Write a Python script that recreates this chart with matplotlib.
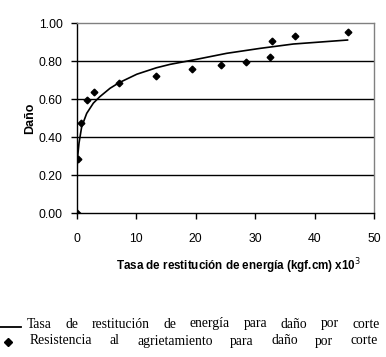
import matplotlib
matplotlib.use('Agg')
import matplotlib.pyplot as plt
import numpy as np

# data
tasa_x = [0.0, 0.17, 0.72, 1.68, 2.9, 7.06, 13.4, 19.4, 24.2, 28.4, 32.4, 32.8, 36.6, 45.5]
resist_y = [0.0, 0.284, 0.475, 0.596, 0.637, 0.684, 0.724, 0.759, 0.782, 0.795, 0.821, 0.905, 0.935, 0.954]

curve_x = [0.0, 0.02, 0.1, 0.39, 0.84, 1.68, 2.8, 3.9, 5.6, 7.1, 10.1, 13.4, 15.7, 19.6, 25.2, 30.8, 36.4, 45.5]
curve_y = [0.0, 0.14, 0.28, 0.37, 0.456, 0.526, 0.58, 0.614, 0.658, 0.687, 0.732, 0.766, 0.784, 0.807, 0.842, 0.868, 0.891, 0.912]

yticks = [0.0, 0.2, 0.4, 0.6, 0.8, 1.0]
xticks = [0, 10, 20, 30, 40, 50]

leg1 = 'Tasa de restitución de energía para daño por corte'
leg2 = 'Resistencia al agrietamiento para daño por corte'

W, H = 386, 357
fig = plt.figure(figsize=(W / 100, H / 100), dpi=100)
ax = fig.add_axes([76.7 / W, 1 - 213.3 / H, (374.3 - 76.7) / W, (213.3 - 23.3) / H])

for v in yticks[1:-1]:
    ax.axhline(v, color='black', lw=1.0, zorder=1)

ax.plot(curve_x, curve_y, color='black', lw=1.2, zorder=3)
ax.plot(tasa_x, resist_y, linestyle='none', marker='D', ms=3.4, color='black', zorder=4)

ax.set_xlim(0, 50)
ax.set_ylim(0, 1.0)
ax.set_xticks(xticks)
ax.set_yticks(yticks)
ax.set_yticklabels(['%.2f' % v for v in yticks])

for s in ['top', 'right']:
    ax.spines[s].set_color('#808080')
for s in ['left', 'bottom']:
    ax.spines[s].set_color('black')
for s in ax.spines.values():
    s.set_linewidth(1.0)

ax.tick_params(axis='both', direction='out', length=4, width=1, color='black',
               labelsize=8.8, labelfontfamily='Liberation Sans')
ax.tick_params(axis='x', pad=10)
ax.tick_params(axis='y', pad=6)

ax.set_ylabel('Daño', fontsize=9, fontweight='bold', family='Liberation Sans', labelpad=2)
fig.text(239 / W, 1 - 266 / H, 'Tasa de restitución de energía (kgf.cm) x10$^3$',
         fontsize=8.4, fontweight='bold', family='Liberation Sans',
         ha='center', va='center')

# legend as justified caption text below the chart
fig.canvas.draw()
renderer = fig.canvas.get_renderer()


def justified(text, x0, x1, yc):
    words = text.split()
    arts = [fig.text(0, 1 - yc / H, w, fontsize=9.8, family='Liberation Serif', va='center')
            for w in words]
    widths = [a.get_window_extent(renderer).width for a in arts]
    gap = (x1 - x0 - sum(widths)) / (len(words) - 1)
    x = x0
    for a, w in zip(arts, widths):
        a.set_x(x / W)
        x += w + gap


justified(leg1, 27, 380, 324)
justified(leg2, 30, 378, 341)
fig.add_artist(plt.Line2D([0 / W, 21 / W], [1 - 327 / H, 1 - 327 / H], color='black', lw=1.3))
fig.add_artist(plt.Line2D([8 / W], [1 - 342 / H], marker='D', ms=4, color='black', linestyle='none'))

fig.savefig('out.png', dpi=100)
